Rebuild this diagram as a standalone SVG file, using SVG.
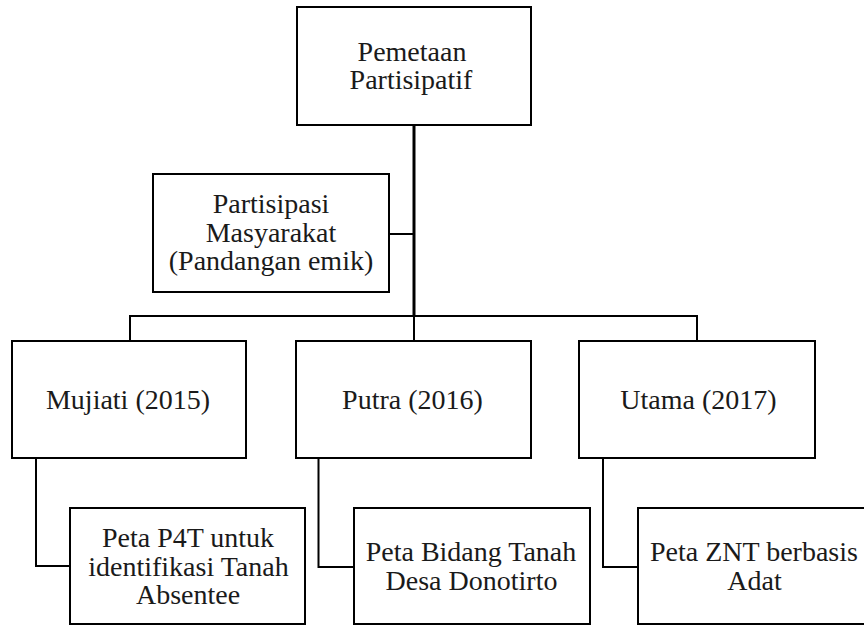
<svg xmlns="http://www.w3.org/2000/svg" width="864" height="625" viewBox="0 0 864 625">
<style>
.box{fill:#fff;stroke:#000;stroke-width:2}
.con{fill:none;stroke:#000;stroke-width:2}
.t{font-family:'Liberation Serif','Times New Roman',serif;font-size:28px;fill:#1a1a1a;text-anchor:middle}
</style>
<rect width="864" height="625" fill="#fff"/>
<g id="connectors">
<line class="con" x1="414" y1="126" x2="414" y2="317" style="stroke-width:3"/>
<line class="con" x1="389" y1="234" x2="414" y2="234"/>
<polyline class="con" points="130,341 130,316 697,316 697,341"/>
<line class="con" x1="414" y1="316" x2="414" y2="341"/>
<polyline class="con" points="36,459 36,566 70,566"/>
<polyline class="con" points="318.5,459 318.5,567 354,567"/>
<polyline class="con" points="603,459 603,567 638,567"/>
</g>
<g id="pemetaan">
<rect class="box" x="297" y="7" width="234" height="118"/>
<text class="t" x="412" y="61">Pemetaan</text>
<text class="t" x="411" y="89">Partisipatif</text>
</g>
<g id="partisipasi">
<rect class="box" x="153" y="174" width="236" height="118"/>
<text class="t" x="271" y="213">Partisipasi</text>
<text class="t" x="271" y="242">Masyarakat</text>
<text class="t" x="271" y="270">(Pandangan emik)</text>
</g>
<g id="mujiati">
<rect class="box" x="12" y="341" width="234" height="117"/>
<text class="t" x="128" y="409">Mujiati (2015)</text>
</g>
<g id="putra">
<rect class="box" x="296" y="341" width="235" height="117"/>
<text class="t" x="412.5" y="409">Putra (2016)</text>
</g>
<g id="utama">
<rect class="box" x="579" y="341" width="236" height="117"/>
<text class="t" x="698.5" y="409">Utama (2017)</text>
</g>
<g id="peta-p4t">
<rect class="box" x="70" y="508" width="235" height="116"/>
<text class="t" x="188" y="547">Peta P4T untuk</text>
<text class="t" x="188.5" y="576">identifikasi Tanah</text>
<text class="t" x="188" y="604">Absentee</text>
</g>
<g id="peta-bidang">
<rect class="box" x="354" y="508" width="236" height="116"/>
<text class="t" x="471" y="561">Peta Bidang Tanah</text>
<text class="t" x="471.5" y="590">Desa Donotirto</text>
</g>
<g id="peta-znt">
<rect class="box" x="638" y="508" width="236" height="116"/>
<text class="t" x="754" y="561">Peta ZNT berbasis</text>
<text class="t" x="754.5" y="590">Adat</text>
</g>
</svg>
